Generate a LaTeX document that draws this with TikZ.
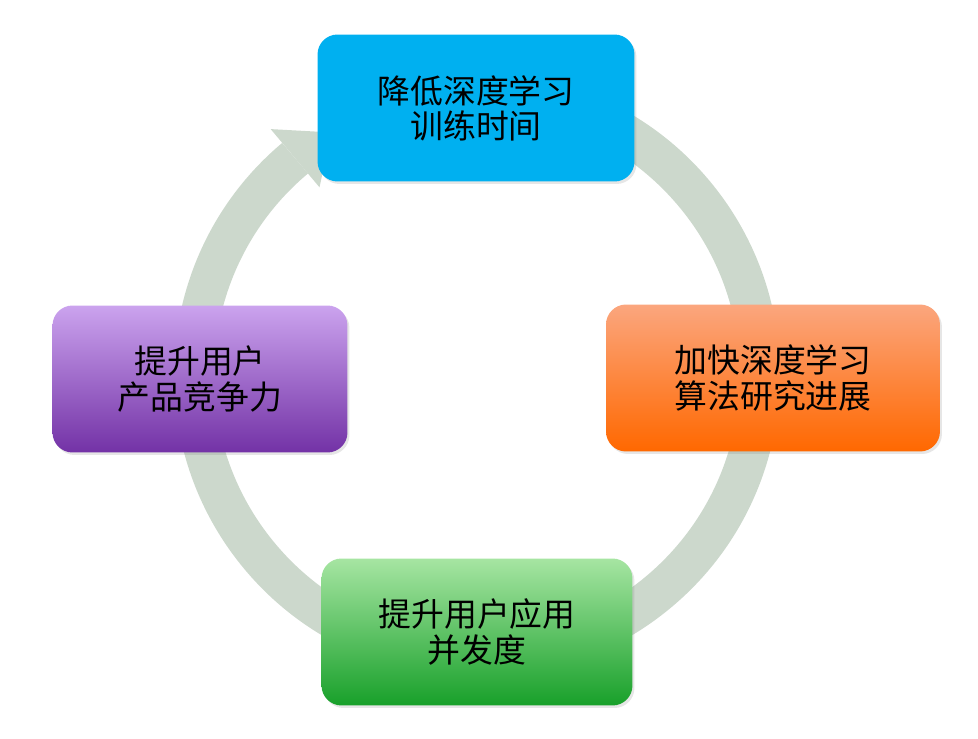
\documentclass[tikz,border=0pt]{standalone}
\usepackage{fontspec}
\setmainfont{Noto Sans CJK SC}
\usetikzlibrary{shadows}
\definecolor{ringgray}{HTML}{CCD8CC}
\definecolor{skyblue}{HTML}{00B0F0}
\definecolor{orangetop}{HTML}{FBA67E}
\definecolor{orangebot}{HTML}{FF6800}
\definecolor{purpletop}{HTML}{CBA3EE}
\definecolor{purplebot}{HTML}{7332A6}
\definecolor{greentop}{HTML}{A6E5A2}
\definecolor{greenbot}{HTML}{18A02A}

\begin{document}
\begin{tikzpicture}[
    x=0.02cm, y=0.02cm,
    goal/.style={rounded corners=0.4cm, minimum height=2.94cm, inner sep=0pt,
                 align=center, font=\fontsize{18.7}{20}\selectfont,
                 drop shadow={opacity=0.2, shadow xshift=0.04cm, shadow yshift=-0.05cm}},
    ring/.style={draw=ringgray, line width=0.8cm}
]
\useasboundingbox (0,0) rectangle (978,738);

% --- cycle ring ---
\coordinate (hub) at (477,363);
\draw[ring] ([shift={(130:283)}]hub) arc[start angle=130, end angle=478, radius=5.66cm];
\fill[ringgray] ([shift={(130:245)}]hub) -- ([shift={(130:321)}]hub)
    -- ([shift={(121:283)}]hub) -- cycle;

% --- goals ---
\node[goal, minimum width=6.34cm, fill=skyblue] (train) at (476,630)
    {降低深度学习\\训练时间};
\node[goal, minimum width=6.68cm, top color=orangetop, bottom color=orangebot] (research) at (773,360)
    {加快深度学习\\算法研究进展};
\node[goal, minimum width=6.22cm, top color=greentop, bottom color=greenbot] (concur) at (477,106)
    {提升用户应用\\并发度};
\node[goal, minimum width=5.9cm, top color=purpletop, bottom color=purplebot] (compete) at (200,359)
    {提升用户\\产品竞争力};

\end{tikzpicture}
\end{document}
